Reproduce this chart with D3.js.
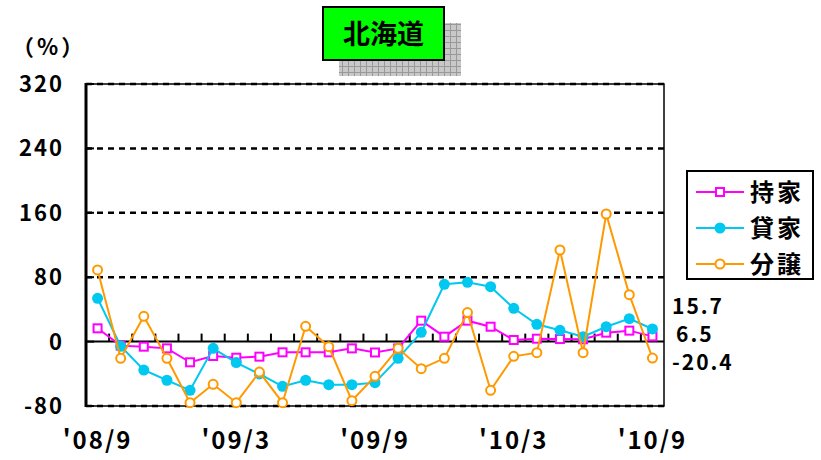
<!DOCTYPE html>
<html lang="ja">
<head>
<meta charset="UTF-8"/>
<title>北海道</title>
<script src="https://d3js.org/d3.v7.min.js"></script>
<style>
  body { margin: 0; background: #fff; }
  text { font-family: "Noto Sans CJK JP", "DejaVu Sans", sans-serif; font-weight: bold; fill: #000; }
</style>
</head>
<body>
<script>
  var w = 821, h = 460;

  // months '08/9 .. '10/9
  var months = ["'08/9","'08/10","'08/11","'08/12","'09/1","'09/2","'09/3","'09/4","'09/5","'09/6","'09/7","'09/8",
                "'09/9","'09/10","'09/11","'09/12","'10/1","'10/2","'10/3","'10/4","'10/5","'10/6","'10/7","'10/8","'10/9"];
  var xLabels = ["'08/9","'09/3","'09/9","'10/3","'10/9"];
  var yTicks = [-80, 0, 80, 160, 240, 320];

  var mochiie = [16.5, -5, -6.3, -8.4, -25.7, -17.9, -20, -18.7, -13.3, -13.3, -13.3, -8.4, -13.5,
                 -8.5, 26, 6.1, 26, 18.5, 2, 3.6, 3.2, 2.9, 11.1, 13.6, 6.5];
  var kashiya = [53.8, -5.8, -35.3, -48, -60.5, -8.3, -26, -40.2, -55.6, -48, -53.5, -53.5, -51,
                 -20.8, 11.5, 71.2, 73.7, 68.2, 41.4, 21.5, 14, 6.1, 18.5, 28.5, 15.7];
  var bunjo   = [89, -20.8, 31.4, -20.8, -75.9, -53, -75.9, -37.8, -75.9, 19, -6.3, -73.4, -43.1,
                 -8.4, -33.6, -20.8, 36, -60.5, -18.3, -13.8, 113.8, -13.8, 158.5, 58.3, -20.4];
  var lastLabels = ["15.7", "6.5", "-20.4"];

  var pLeft = 86, pRight = 664, pTop = 84, pBottom = 406;

  var x = d3.scaleBand().domain(months).range([pLeft, pRight]);
  var y = d3.scaleLinear().domain([-80, 320]).range([pBottom, pTop]);
  var cx = function(d, i) { return x(months[i]) + x.bandwidth() / 2; };

  var svg = d3.select("body").append("svg").attr("width", w).attr("height", h);

  // title box with grey shadow
  var pat = svg.append("defs").append("pattern")
      .attr("id", "grid").attr("width", 6).attr("height", 6).attr("patternUnits", "userSpaceOnUse");
  pat.append("rect").attr("width", 6).attr("height", 6).attr("fill", "#c8c8c8");
  pat.append("path").attr("d", "M0,0.5H6M0.5,0V6").attr("stroke", "#999").attr("stroke-width", 1);
  svg.append("rect").attr("x", 339).attr("y", 23).attr("width", 122).attr("height", 53).attr("fill", "url(#grid)");
  svg.append("rect").attr("x", 323).attr("y", 7).attr("width", 121).attr("height", 53)
     .attr("fill", "#00ff00").attr("stroke", "#000").attr("stroke-width", 2);
  svg.append("text").attr("x", 383.5).attr("y", 44).attr("text-anchor", "middle")
     .attr("font-size", 27).text("北海道");

  svg.append("text").attr("x", 12).attr("y", 55).attr("font-size", 22).attr("letter-spacing", 3).text("（%）");

  // grid lines
  svg.selectAll(".grid").data(yTicks.filter(function(d) { return d !== 0; })).enter()
     .append("line")
     .attr("x1", pLeft).attr("x2", pRight)
     .attr("y1", function(d) { return y(d); }).attr("y2", function(d) { return y(d); })
     .attr("stroke", "#000").attr("stroke-width", 2.5).attr("stroke-dasharray", "6,5");

  // frame
  svg.append("rect").attr("x", pLeft).attr("y", pTop).attr("width", pRight - pLeft).attr("height", pBottom - pTop)
     .attr("fill", "none").attr("stroke", "#000").attr("stroke-width", 1.5);
  svg.append("line").attr("x1", pLeft).attr("x2", pLeft).attr("y1", pTop - 1).attr("y2", pBottom + 1)
     .attr("stroke", "#000").attr("stroke-width", 3);

  // left ticks
  svg.selectAll(".ltick").data(yTicks).enter().append("line")
     .attr("x1", pLeft).attr("x2", pLeft + 8)
     .attr("y1", function(d) { return y(d); }).attr("y2", function(d) { return y(d); })
     .attr("stroke", "#000").attr("stroke-width", 2);

  // zero line with ticks
  svg.append("line").attr("x1", pLeft).attr("x2", pRight).attr("y1", y(0)).attr("y2", y(0))
     .attr("stroke", "#000").attr("stroke-width", 2);
  svg.selectAll(".ztick").data(months.slice(1)).enter().append("line")
     .attr("x1", function(d) { return x(d); }).attr("x2", function(d) { return x(d); })
     .attr("y1", y(0)).attr("y2", y(0) - 8)
     .attr("stroke", "#000").attr("stroke-width", 2);

  // y labels
  svg.selectAll(".ylab").data(yTicks).enter().append("text")
     .attr("x", 64).attr("y", function(d) { return y(d) + 8; })
     .attr("text-anchor", "end").attr("font-size", 22).attr("letter-spacing", 2)
     .text(function(d) { return d; });

  // x labels
  svg.selectAll(".xlab").data(xLabels).enter().append("text")
     .attr("x", function(d) { return x(d) + x.bandwidth() / 2; }).attr("y", 449)
     .attr("text-anchor", "middle").attr("font-size", 24).attr("letter-spacing", 2)
     .text(function(d) { return d; });

  var line = d3.line().x(cx).y(function(d) { return y(d); });

  var series = [
    { name: "持家", data: mochiie, color: "#ff00ff", marker: "square" },
    { name: "貸家", data: kashiya, color: "#00c8f0", marker: "dot" },
    { name: "分譲", data: bunjo,   color: "#ff9900", marker: "ring" }
  ];

  function drawMarker(g, s, px, py) {
    if (s.marker === "square") {
      g.append("rect").attr("x", px - 4).attr("y", py - 4).attr("width", 8).attr("height", 8)
       .attr("fill", "#fff").attr("stroke", s.color).attr("stroke-width", 2);
    } else if (s.marker === "dot") {
      g.append("circle").attr("cx", px).attr("cy", py).attr("r", 5.5).attr("fill", s.color);
    } else {
      g.append("circle").attr("cx", px).attr("cy", py).attr("r", 4.5)
       .attr("fill", "#fff").attr("stroke", s.color).attr("stroke-width", 2);
    }
  }

  series.forEach(function(s) {
    var g = svg.append("g");
    g.append("path").datum(s.data).attr("d", line)
     .attr("fill", "none").attr("stroke", s.color).attr("stroke-width", 2);
    s.data.forEach(function(d, i) { drawMarker(g, s, cx(d, i), y(d)); });
  });

  // last value labels
  svg.selectAll(".last").data(lastLabels).enter().append("text")
     .attr("x", function(d, i) { return i === 1 ? 676 : 672; })
     .attr("y", function(d, i) { return 314 + i * 28; })
     .attr("font-size", 21).attr("letter-spacing", 2)
     .text(function(d) { return d; });

  // legend
  var lg = svg.append("g");
  lg.append("rect").attr("x", 687).attr("y", 171).attr("width", 126).attr("height", 108)
    .attr("fill", "#fff").attr("stroke", "#000").attr("stroke-width", 2);
  series.forEach(function(s, i) {
    var ly = 192 + i * 36;
    lg.append("line").attr("x1", 696).attr("x2", 744).attr("y1", ly).attr("y2", ly)
      .attr("stroke", s.color).attr("stroke-width", 2);
    drawMarker(lg, s, 720, ly);
    lg.append("text").attr("x", 750).attr("y", ly + 9).attr("font-size", 24).attr("letter-spacing", 3).text(s.name);
  });
</script>
</body>
</html>
